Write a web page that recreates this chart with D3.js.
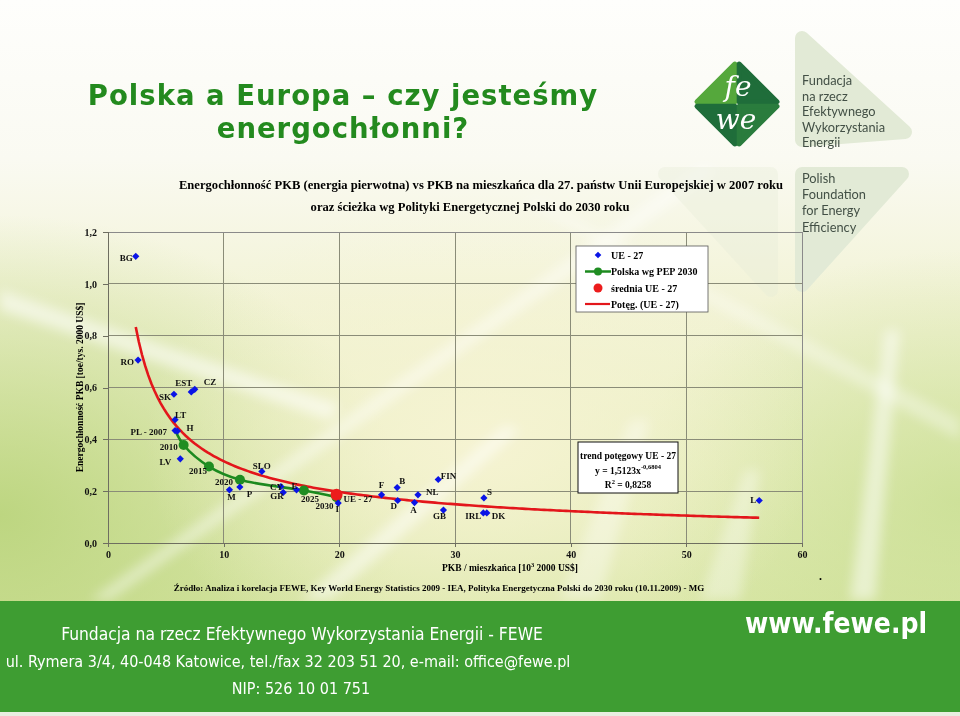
<!DOCTYPE html>
<html><head><meta charset="utf-8">
<script src="https://cdn.jsdelivr.net/npm/d3@7"></script>
<style>html,body{margin:0;padding:0;background:#fff;}svg{display:block}</style>
</head><body><svg id="c" width="960" height="716"></svg>
<script>
// ---------------- DATA ----------------
const countries = ["BG","RO","SK","EST","CZ","LT","PL - 2007","H","LV","SLO","M","P","CY","GR","E","I","F","B","D","NL","A","FIN","GB","S","IRL","DK","L"];
const gdpPerCapita = [2.4, 2.6, 5.7, 7.2, 7.5, 5.8, 5.8, 6.0, 6.25, 13.3, 10.5, 11.4, 14.95, 15.15, 16.3, 19.9, 23.65, 25.0, 25.05, 26.8, 26.5, 28.55, 29.0, 32.5, 32.45, 32.75, 56.3];
const energyIntensity = [1.106, 0.706, 0.574, 0.583, 0.593, 0.476, 0.434, 0.432, 0.325, 0.276, 0.205, 0.216, 0.218, 0.195, 0.205, 0.154, 0.186, 0.214, 0.164, 0.186, 0.156, 0.245, 0.127, 0.174, 0.116, 0.116, 0.164];

const plYears = ["2007","2010","2015","2020","2025","2030"];
const plGdp = [5.82, 6.54, 8.73, 11.41, 16.94, 19.76];
const plIntensity = [0.434, 0.378, 0.295, 0.244, 0.2025, 0.177];

const euAvgNames = ["UE - 27"];
const euAvgGdp = [19.76];
const euAvgIntensity = [0.186];

const trendCoefA = 1.5123;
const trendExponent = -0.6804;
const trendXRange = [2.4, 56.3];

const xTicks = [0, 10, 20, 30, 40, 50, 60];
const yTicks = [0, 0.2, 0.4, 0.6, 0.8, 1.0, 1.2];

const legendLabels = ["UE - 27", "Polska wg PEP 2030", "średnia UE - 27", "Potęg. (UE - 27)"];

// ---------------- LAYOUT (label offsets in px) ----------------
const labelLayout = {
  "BG":[-3,2,"end"], "RO":[-4,2,"end"], "SK":[-3,3,"end"], "EST":[1,-9,"end"], "CZ":[9,-7,"start"],
  "LT":[0,-5,"start"], "PL - 2007":[-8,1,"end"], "H":[9,-3,"start"], "LV":[-9,3,"end"],
  "SLO":[-9,-5,"start"], "M":[2,7,"middle"], "P":[7,7,"start"], "CY":[-11,0,"start"], "GR":[-13,4,"start"],
  "E":[-2,-4,"middle"], "I":[-1,6,"middle"], "F":[0,-10,"middle"], "B":[2,-7,"start"], "D":[-4,6,"middle"],
  "NL":[8,-3,"start"], "A":[-1,7,"middle"], "FIN":[2.5,-4,"start"], "GB":[-4,6,"middle"], "S":[3,-6,"start"],
  "IRL":[-2,3,"end"], "DK":[5,3,"start"], "L":[-3,0,"end"]
};
const yearLayout = {"2010":[-6,2,"end"], "2015":[-2,4,"end"], "2020":[-7,2,"end"], "2025":[-3,8,"start"], "2030":[-3,9,"end"]};

// ---------------- DRAW ----------------
const svg = d3.select("#c");
const defs = svg.append("defs");
const serif = "'Liberation Serif','Times New Roman',serif";

// background gradients
const lg = defs.append("linearGradient").attr("id","bg").attr("x1",0).attr("y1",0).attr("x2",0).attr("y2",1);
[[0,"#fefefc"],[0.22,"#fafaf2"],[0.42,"#f2f3d6"],[0.65,"#e8eebf"],[0.85,"#d9e6a6"],[1,"#cfe098"]].forEach(s=>lg.append("stop").attr("offset",s[0]).attr("stop-color",s[1]));
const rg1 = defs.append("radialGradient").attr("id","glowL").attr("cx",0).attr("cy",0.72).attr("r",0.42);
rg1.append("stop").attr("offset",0).attr("stop-color","#b6d277").attr("stop-opacity",0.85);
rg1.append("stop").attr("offset",1).attr("stop-color","#b6d277").attr("stop-opacity",0);
const rg2 = defs.append("radialGradient").attr("id","glowC").attr("cx",0.5).attr("cy",0.62).attr("r",0.35);
rg2.append("stop").attr("offset",0).attr("stop-color","#f7f4d4").attr("stop-opacity",0.9);
rg2.append("stop").attr("offset",1).attr("stop-color","#f7f4d4").attr("stop-opacity",0);
const rg3 = defs.append("radialGradient").attr("id","glowR").attr("cx",1).attr("cy",0.7).attr("r",0.35);
rg3.append("stop").attr("offset",0).attr("stop-color","#c4dc8c").attr("stop-opacity",0.7);
rg3.append("stop").attr("offset",1).attr("stop-color","#c4dc8c").attr("stop-opacity",0);
defs.append("filter").attr("id","blur").attr("x","-20%").attr("y","-20%").attr("width","140%").attr("height","140%")
  .append("feGaussianBlur").attr("stdDeviation",6);

svg.append("rect").attr("width",960).attr("height",716).attr("fill","url(#bg)");
svg.append("rect").attr("width",960).attr("height",716).attr("fill","url(#glowL)");
svg.append("rect").attr("width",960).attr("height",716).attr("fill","url(#glowR)");
svg.append("rect").attr("width",960).attr("height",716).attr("fill","url(#glowC)");
// light rays
const rays = svg.append("g").attr("filter","url(#blur)").attr("fill","#ffffff");
rays.append("path").attr("d","M0,290 L0,310 L330,420 L340,405 Z").attr("opacity",0.55);
rays.append("path").attr("d","M90,600 L110,600 L720,170 L700,165 Z").attr("opacity",0.45);
rays.append("path").attr("d","M300,600 L330,600 L520,430 L505,425 Z").attr("opacity",0.5);
rays.append("path").attr("d","M560,600 L600,600 L650,420 L630,420 Z").attr("opacity",0.35);
rays.append("path").attr("d","M850,600 L875,600 L900,330 L885,330 Z").attr("opacity",0.5);
rays.append("path").attr("d","M700,600 L740,600 L760,470 L745,470 Z").attr("opacity",0.35);
rays.append("path").attr("d","M520,200 L540,200 L960,420 L960,440 Z").attr("opacity",0.35);

// pale leaf shapes behind logo text
const leaf = svg.append("g").attr("stroke-width",14).attr("stroke-linejoin","round");
leaf.append("path").attr("d","M802,38 L905,132 L802,140 Z").attr("fill","#e2ead6").attr("stroke","#e2ead6");
leaf.append("path").attr("d","M802,174 L902,174 L802,285 Z").attr("fill","#e2ead6").attr("stroke","#e2ead6");
leaf.append("path").attr("d","M665,174 L771,174 L771,290 Z").attr("fill","#e6ecd8").attr("stroke","#e6ecd8").attr("opacity",0.35);

// FEWE logo
const logo = svg.append("g").attr("transform","translate(737,104)");
const R = 40, g = 2.2;
const quads = [
  {pts:[[-g,-R],[-R,-g],[-g,-g]], c:"#55a83c"},
  {pts:[[g,-R],[R,-g],[g,-g]], c:"#1f6d3a"},
  {pts:[[-g,R],[-R,g],[-g,g]], c:"#1f6d3a"},
  {pts:[[g,R],[R,g],[g,g]], c:"#2a7c3d"}
];
quads.forEach(q=>{
  logo.append("path").attr("d","M"+q.pts.map(p=>p.join(",")).join("L")+"Z")
    .attr("fill",q.c).attr("stroke",q.c).attr("stroke-width",5).attr("stroke-linejoin","round");
});
logo.append("text").attr("x",1).attr("y",-8).attr("text-anchor","middle").attr("font-family","'DejaVu Serif',serif")
  .attr("font-style","italic").attr("font-size",28).attr("fill","#fff").text("fe");
logo.append("text").attr("x",-1).attr("y",25).attr("text-anchor","middle").attr("font-family","'DejaVu Serif',serif")
  .attr("font-style","italic").attr("font-size",28).attr("fill","#fff").text("we");

const orgPL = ["Fundacja","na rzecz","Efektywnego","Wykorzystania","Energii"];
const orgEN = ["Polish","Foundation","for Energy","Efficiency"];
const logoText = svg.append("g").attr("font-family","Lato,'Open Sans',sans-serif").attr("font-size",12.8).attr("fill","#435046");
orgPL.forEach((t,i)=>logoText.append("text").attr("x",802).attr("y",85+i*15.5).text(t));
orgEN.forEach((t,i)=>logoText.append("text").attr("x",802).attr("y",183+i*16.2).text(t));

// slide title
const title = svg.append("g").attr("font-family","'DejaVu Sans',Verdana,sans-serif").attr("font-weight","bold")
  .attr("font-size",27.5).attr("letter-spacing",1).attr("fill","#238a1e").attr("text-anchor","middle");
title.append("text").attr("x",343).attr("y",105).text("Polska a Europa – czy jesteśmy");
title.append("text").attr("x",343).attr("y",137.5).text("energochłonni?");

// chart title
const ct = svg.append("g").attr("font-family",serif).attr("font-weight","bold").attr("font-size",12.6).attr("fill","#000");
ct.append("text").attr("x",481).attr("y",189).attr("text-anchor","middle")
  .text("Energochłonność PKB (energia pierwotna) vs PKB na mieszkańca dla 27. państw Unii Europejskiej w 2007 roku");
ct.append("text").attr("x",470).attr("y",211).attr("text-anchor","middle")
  .text("oraz ścieżka wg Polityki Energetycznej Polski do 2030 roku");

// scales
const x = d3.scaleLinear().domain([0,60]).range([108,802]);
const y = d3.scaleLinear().domain([0,1.2]).range([543,232]);

// grid
const grid = svg.append("g").attr("stroke","#8a8c78").attr("stroke-width",1).attr("shape-rendering","crispEdges");
xTicks.filter(v=>v>0 && v<60).forEach(v=>grid.append("line").attr("x1",x(v)).attr("x2",x(v)).attr("y1",y(1.2)).attr("y2",y(0)));
yTicks.filter(v=>v>0 && v<1.2).forEach(v=>grid.append("line").attr("x1",x(0)).attr("x2",x(60)).attr("y1",y(v)).attr("y2",y(v)));
grid.append("line").attr("x1",x(0)).attr("x2",x(60)).attr("y1",y(1.2)).attr("y2",y(1.2)).attr("stroke","#8a8a8a");
grid.append("line").attr("x1",x(60)).attr("x2",x(60)).attr("y1",y(1.2)).attr("y2",y(0)).attr("stroke","#8a8a8a");

// axes
const fmt = v => d3.format(".1f")(v).replace(".",",");
const yAxis = svg.append("g").attr("transform",`translate(${x(0)},0)`)
  .call(d3.axisLeft(y).tickValues(yTicks).tickSize(5).tickPadding(6).tickFormat(fmt));
const xAxis = svg.append("g").attr("transform",`translate(0,${y(0)})`)
  .call(d3.axisBottom(x).tickValues(xTicks).tickSize(4).tickPadding(4).tickFormat(d3.format("d")));
[yAxis,xAxis].forEach(a=>{
  a.selectAll("path,line").attr("stroke","#6e6e60").attr("shape-rendering","crispEdges");
  a.selectAll("text").attr("font-family",serif).attr("font-weight","bold").attr("font-size",10).attr("fill","#111");
});

// axis titles
svg.append("text").attr("transform",`translate(83,${y(0.6)}) rotate(-90)`).attr("text-anchor","middle")
  .attr("font-family",serif).attr("font-weight","bold").attr("font-size",9.5).text("Energochłonność PKB [toe/tys. 2000 US$]");
const xt = svg.append("text").attr("x",510).attr("y",571).attr("text-anchor","middle")
  .attr("font-family",serif).attr("font-weight","bold").attr("font-size",9.5);
xt.append("tspan").text("PKB  / mieszkańca [10");
xt.append("tspan").attr("dy",-4).attr("font-size",6.5).text("3");
xt.append("tspan").attr("dy",4).text(" 2000 US$]");
svg.append("text").attr("x",439).attr("y",591).attr("text-anchor","middle")
  .attr("font-family",serif).attr("font-weight","bold").attr("font-size",9)
  .text("Źródło: Analiza i korelacja FEWE, Key World Energy Statistics 2009 - IEA, Polityka Energetyczna Polski do 2030 roku (10.11.2009) - MG");
svg.append("text").attr("x",819).attr("y",580).attr("font-family",serif).attr("font-weight","bold").attr("font-size",12).text(".");

// trend line
const trendX = d3.range(0,201).map(i=>trendXRange[0]+(trendXRange[1]-trendXRange[0])*i/200);
const trendData = trendX.map(v=>[v, trendCoefA*Math.pow(v,trendExponent)]);
svg.append("path").datum(trendData).attr("fill","none").attr("stroke","#e3161b").attr("stroke-width",2.6)
  .attr("d",d3.line().x(d=>x(d[0])).y(d=>y(d[1])));

// Polska path
const plData = plYears.map((yr,i)=>({yr, gx:plGdp[i], ei:plIntensity[i]}));
svg.append("path").datum(plData).attr("fill","none").attr("stroke","#1c8a1f").attr("stroke-width",2.6)
  .attr("d",d3.line().curve(d3.curveCatmullRom.alpha(0.5)).x(d=>x(d.gx)).y(d=>y(d.ei)));
svg.append("g").selectAll("circle").data(plData.slice(1)).join("circle")
  .attr("cx",d=>x(d.gx)).attr("cy",d=>y(d.ei)).attr("r",5).attr("fill","#1f8d22");

// EU average
svg.append("g").selectAll("circle").data(euAvgNames.map((n,i)=>({n,gx:euAvgGdp[i],ei:euAvgIntensity[i]}))).join("circle")
  .attr("cx",d=>x(d.gx)).attr("cy",d=>y(d.ei)).attr("r",6).attr("fill","#ec1c1c");

// country diamonds
const cData = countries.map((c,i)=>({c, gx:gdpPerCapita[i], ei:energyIntensity[i]}));
const diamond = d3.symbol().type(d3.symbolSquare).size(26);
svg.append("g").selectAll("path").data(cData).join("path")
  .attr("d",diamond).attr("fill","#0a14e6")
  .attr("transform",d=>`translate(${x(d.gx)},${y(d.ei)}) rotate(45)`);

// labels
const lab = svg.append("g").attr("font-family",serif).attr("font-weight","bold").attr("font-size",9).attr("fill","#111")
  .attr("dominant-baseline","central");
cData.forEach(d=>{
  const L = labelLayout[d.c];
  lab.append("text").attr("x",x(d.gx)+L[0]).attr("y",y(d.ei)+L[1]).attr("text-anchor",L[2]).text(d.c);
});
plData.slice(1).forEach(d=>{
  const L = yearLayout[d.yr];
  lab.append("text").attr("x",x(d.gx)+L[0]).attr("y",y(d.ei)+L[1]).attr("text-anchor",L[2]).text(d.yr);
});
lab.append("text").attr("x",x(euAvgGdp[0])+7).attr("y",y(euAvgIntensity[0])+4).text(euAvgNames[0]);

// legend
const lgd = svg.append("g");
lgd.append("rect").attr("x",576).attr("y",246).attr("width",132).attr("height",66)
  .attr("fill","#ffffff").attr("stroke","#555").attr("stroke-width",0.8);
const rowY = [255, 271.5, 288, 304];
lgd.append("path").attr("d",d3.symbol().type(d3.symbolSquare).size(22)).attr("fill","#0a14e6")
  .attr("transform",`translate(598,${rowY[0]}) rotate(45)`);
lgd.append("line").attr("x1",585).attr("x2",611).attr("y1",rowY[1]).attr("y2",rowY[1]).attr("stroke","#1c8a1f").attr("stroke-width",2.5);
lgd.append("circle").attr("cx",598).attr("cy",rowY[1]).attr("r",4).attr("fill","#1f8d22");
lgd.append("circle").attr("cx",598).attr("cy",rowY[2]).attr("r",4.5).attr("fill","#ec1c1c");
lgd.append("line").attr("x1",585).attr("x2",610).attr("y1",rowY[3]).attr("y2",rowY[3]).attr("stroke","#e3161b").attr("stroke-width",2.2);
legendLabels.forEach((t,i)=>lgd.append("text").attr("x",611).attr("y",rowY[i]).attr("dominant-baseline","central")
  .attr("font-family",serif).attr("font-weight","bold").attr("font-size",10).text(t));

// trend equation box
const tb = svg.append("g").attr("font-family",serif).attr("font-weight","bold").attr("font-size",9.5).attr("text-anchor","middle");
tb.append("rect").attr("x",578).attr("y",442).attr("width",100).attr("height",51).attr("fill","#fff").attr("stroke","#111").attr("stroke-width",1);
tb.append("text").attr("x",628).attr("y",459).text("trend potęgowy UE - 27");
const eq = tb.append("text").attr("x",628).attr("y",474);
eq.append("tspan").text("y = 1,5123x");
eq.append("tspan").attr("dy",-5).attr("font-size",6.5).text("-0,6804");
const r2 = tb.append("text").attr("x",628).attr("y",488);
r2.append("tspan").text("R");
r2.append("tspan").attr("dy",-4).attr("font-size",6.5).text("2");
r2.append("tspan").attr("dy",4).text(" = 0,8258");

// footer
svg.append("rect").attr("x",0).attr("y",601).attr("width",960).attr("height",111).attr("fill","#3e9d32");
svg.append("rect").attr("x",0).attr("y",712).attr("width",960).attr("height",4).attr("fill","#e8efe0");
const ft = svg.append("g").attr("fill","#fff").attr("font-family","'DejaVu Sans Condensed','DejaVu Sans',sans-serif").attr("font-stretch","condensed");
ft.append("text").attr("x",302).attr("y",640).attr("text-anchor","middle").attr("font-size",17.3).text("Fundacja na rzecz Efektywnego Wykorzystania Energii - FEWE");
ft.append("text").attr("x",288).attr("y",667).attr("text-anchor","middle").attr("font-size",16).text("ul. Rymera 3/4, 40-048 Katowice, tel./fax 32 203 51 20, e-mail: office@fewe.pl");
ft.append("text").attr("x",301).attr("y",694).attr("text-anchor","middle").attr("font-size",16).text("NIP: 526 10 01 751");
ft.append("text").attr("x",836).attr("y",633).attr("text-anchor","middle").attr("font-size",28).attr("font-weight","bold").attr("font-family","'DejaVu Sans Condensed','DejaVu Sans',sans-serif").text("www.fewe.pl");
</script></body></html>
